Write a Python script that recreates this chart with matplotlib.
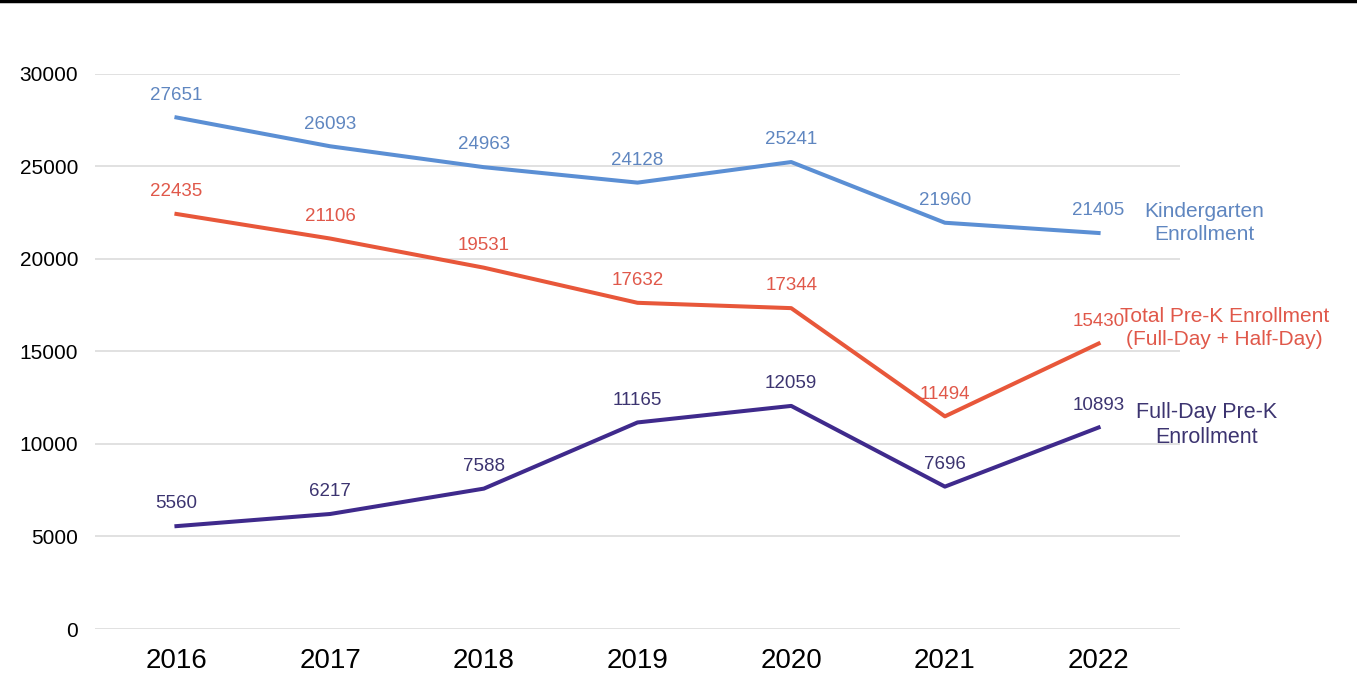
import matplotlib
matplotlib.use('Agg')
import matplotlib.pyplot as plt
from matplotlib.lines import Line2D

plt.rcParams['font.family'] = ['Liberation Sans', 'DejaVu Sans']

years = ['2016', '2017', '2018', '2019', '2020', '2021', '2022']
kindergarten = [27651, 26093, 24963, 24128, 25241, 21960, 21405]
total_prek = [22435, 21106, 19531, 17632, 17344, 11494, 15430]
fullday_prek = [5560, 6217, 7588, 11165, 12059, 7696, 10893]

series = [
    (kindergarten, '#5b8fd4', '#5f86c0', 'Kindergarten\nEnrollment', 6.69, 21950, 15),
    (total_prek, '#e8573a', '#e0584a', 'Total Pre-K Enrollment\n(Full-Day + Half-Day)', 6.82, 16270, 15),
    (fullday_prek, '#3f2a8c', '#3c3470', 'Full-Day Pre-K\nEnrollment', 6.70, 11030, 15.5),
]

fig = plt.figure(figsize=(13.57, 6.77), dpi=100)
ax = fig.add_axes([0.070, 0.0709, 0.7996, 0.8198])

x = list(range(len(years)))
for vals, lc, tc, name, lx, ly, fs in series:
    ax.plot(x, vals, color=lc, linewidth=2.9)
    for xi, v in zip(x, vals):
        ax.annotate(str(v), (xi, v), xytext=(0, 16), textcoords='offset points',
                    ha='center', va='center', fontsize=13.5, color=tc)
    ax.text(lx, ly, name, ha='center', va='center', fontsize=fs, color=tc,
            linespacing=1.25, clip_on=False)

ax.set_xlim(-0.53, 6.53)
ax.set_ylim(0, 30000)
ax.set_yticks(range(0, 30001, 5000))
ax.set_xticks(x)
ax.set_xticklabels(years, fontsize=20)
ax.tick_params(axis='y', labelsize=15, length=0, pad=12)
ax.tick_params(axis='x', length=0, pad=14)
ax.grid(axis='y', color='#d9d9d9', linewidth=1.1)
ax.set_axisbelow(True)
for s in ax.spines.values():
    s.set_visible(False)

# black rule at the very top
fig.add_artist(Line2D([0, 1], [0.998, 0.998], transform=fig.transFigure,
                      color='black', linewidth=2.5))

plt.savefig('out.png', dpi=100)
plt.close()
